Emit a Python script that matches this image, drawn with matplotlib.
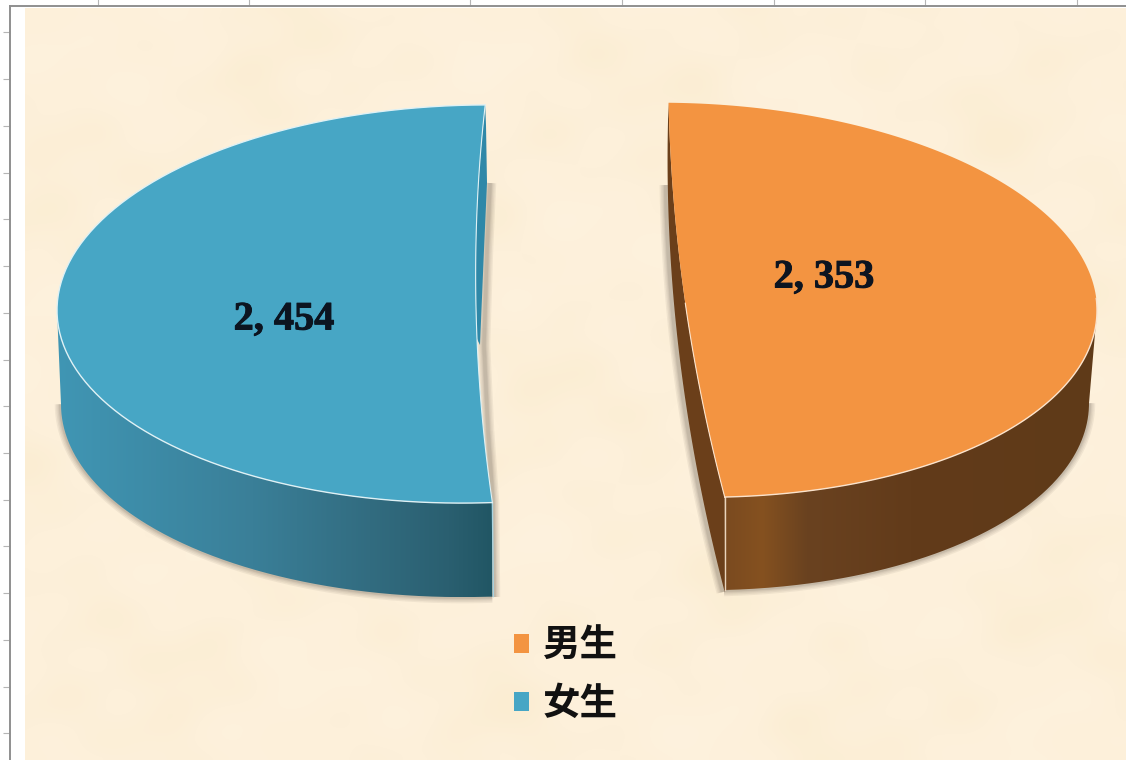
import numpy as np
import matplotlib
matplotlib.use("Agg")
import matplotlib.pyplot as plt
import matplotlib.patheffects as pe
from matplotlib.colors import LinearSegmentedColormap
from matplotlib.patches import Patch, PathPatch
from matplotlib.path import Path

categories = ["男生", "女生"]
values = [2353, 2454]
top_colors = ["#f39441", "#47a6c5"]
x_ticks = [98, 249, 470, 622, 774, 925, 1077]
y_ticks = [32, 79, 126, 173, 219, 266, 313, 360, 406, 453, 500, 546, 593, 640, 687, 733]

W, H = 1126, 760


def arc(cx, cy, a, b, t0, t1, tilt=0.0, n=200):
    t = np.radians(np.linspace(t0, t1, n))
    x = cx + a * np.cos(t)
    return np.column_stack([x, cy - b * np.sin(t) + tilt * (x - cx)])


def bezier(p0, c, p1, n=60):
    s = np.linspace(0, 1, n)[:, None]
    return (1 - s) ** 2 * np.array(p0) + 2 * s * (1 - s) * np.array(c) + s ** 2 * np.array(p1)


def poly(pts):
    return Path(np.vstack([pts, pts[:1]]))


def shadow(ax, pts, z=1):
    for lw in [9, 7, 5, 3.5, 2.5]:
        ax.plot(pts[:, 0], pts[:, 1], color="#4a4038", lw=lw, alpha=0.07,
                solid_capstyle="butt", zorder=z)


def grad_wall(ax, pts, cmap, z):
    x0, x1 = pts[:, 0].min(), pts[:, 0].max()
    y0, y1 = pts[:, 1].min(), pts[:, 1].max()
    im = ax.imshow(np.linspace(0, 1, 256)[None, :], cmap=cmap, extent=[x0, x1, y1, y0],
                   aspect="auto", zorder=z)
    im.set_clip_path(PathPatch(poly(pts), transform=ax.transData))


def value_label(ax, x, y, v):
    txt = ax.text(x, y, f"{v:,}".replace(",", ", "), family="Liberation Serif", weight="bold",
                  fontsize=29, color="#0c1420", ha="center", va="center", zorder=6)
    txt.set_path_effects([pe.withStroke(linewidth=0.7, foreground="#0c1420")])


fig = plt.figure(figsize=(W / 100, H / 100), dpi=100)
ax = fig.add_axes([10 / W, 0, 1 - 10 / W, 1 - 6 / H])

# paper background, smooth mottling only
xx, yy = np.meshgrid(np.linspace(0, 1, 280), np.linspace(0, 1, 190))
tex = (np.sin(19 * xx + 3 * yy) * np.sin(15 * yy - 2 * xx + 1)
       + 0.7 * np.sin(37 * xx - 11 * yy + 2) * np.sin(29 * yy + 7 * xx)
       + 0.5 * np.sin(61 * xx + 23 * yy) * np.sin(53 * yy - 17 * xx + 4))
paper = LinearSegmentedColormap.from_list("paper", ["#fbedd2", "#fdf0da", "#fef2de"])
ax.imshow(tex, cmap=paper, extent=[25, W, H, 8], aspect="auto", zorder=0, interpolation="bilinear")

total = sum(values)
sweep_m = 360 * values[0] / total
sweep_f = 360 * values[1] / total

# 男生 slice
cx, cy, a, b, k = 683, 300, 414, 197, 0.025
t0, t1 = 92, 92 - sweep_m
outer = arc(cx, cy, a, b, t0, t1, k)
p_top, p_bot = outer[0], outer[-1]
inner = bezier(p_bot, (673, 300), p_top)
lower = arc(cx, cy + 93, a - 8, b, t1, 0, k)
side = arc(cx, cy, a, b, 0, t1, k)
wall = np.vstack([lower, side])
left_edge = bezier(p_top, (660, 345), (p_bot[0], p_bot[1] + 95))
inner_wall = np.vstack([left_edge, [p_bot], inner[1:]])
shadow(ax, lower)
shadow(ax, left_edge[left_edge[:, 1] > 183] - [2, 0])
brown = LinearSegmentedColormap.from_list(
    "brown", [(0, "#7a4a20"), (0.1, "#85511f"), (0.22, "#6a4220"), (0.5, "#623b1a"), (1, "#5f3a18")])
grad_wall(ax, wall, brown, 2)
ax.add_patch(PathPatch(poly(inner_wall), fc="#6b3f1a", ec="none", zorder=2))
ax.plot([p_bot[0], p_bot[0]], [p_bot[1], p_bot[1] + 93], color="#e9d3bb", lw=1, zorder=3)
ax.add_patch(PathPatch(poly(np.vstack([outer, inner[1:]])), fc=top_colors[0], ec="none", zorder=4))
ax.plot(outer[100:, 0], outer[100:, 1], color="#fbe3cc", lw=1, zorder=5)
ax.plot(inner[:30, 0], inner[:30, 1], color="#fbe3cc", lw=0.8, zorder=5)
value_label(ax, 824, 278, values[0])

# 女生 slice
cx, cy, a, b, k = 475, 304, 418, 199, -0.015
t0, t1 = 88.6, 88.6 + sweep_f
outer = arc(cx, cy, a, b, t0, t1, k)
p_top, p_bot = outer[0], outer[-1]
inner = bezier(p_bot, (463, 300), p_top)
lower = arc(cx, cy + 94, a - 4, b, 180, t1, k)
side = arc(cx, cy, a, b, t1, 180, k)
wall = np.vstack([lower, side])
up_part = inner[inner[:, 1] < 345]
sliver = np.vstack([up_part, [(486, 125), (487, 183), (484, 250), (480, 345)]])
gap_edge = np.array([(490, 183), (487, 250), (484, 345), (488, 430), (493, 502), (494, 597)])
shadow(ax, lower)
shadow(ax, gap_edge)
blue = LinearSegmentedColormap.from_list(
    "blue", [(0, "#4096b4"), (0.45, "#3a7f98"), (0.72, "#326c80"), (0.9, "#2a5f70"), (1, "#215664")])
grad_wall(ax, wall, blue, 2)
ax.add_patch(PathPatch(poly(sliver), fc="#2f88a8", ec="none", zorder=2))
ax.plot([p_bot[0], p_bot[0] + 1], [p_bot[1], p_bot[1] + 94], color="#a8d3e0", lw=1, zorder=3)
ax.add_patch(PathPatch(poly(np.vstack([outer, inner[1:]])), fc=top_colors[1], ec="none", zorder=4))
ax.plot(outer[:, 0], outer[:, 1], color="#dff1f5", lw=1, zorder=5)
ax.plot(inner[:, 0], inner[:, 1], color="#dff1f5", lw=0.8, zorder=5)
value_label(ax, 284, 320, values[1])

handles = [Patch(fc=c, ec="none") for c in top_colors]
leg = ax.legend(handles, categories, loc="center", bbox_to_anchor=(566, 674),
                bbox_transform=ax.transData, frameon=False,
                handlelength=0.4, handleheight=0.4, handletextpad=0.37, labelspacing=0.51,
                prop={"family": ["Noto Sans CJK TC", "DejaVu Sans"], "weight": "bold", "size": 27})
for t in leg.get_texts():
    t.set_color("#111111")
leg.set_zorder(6)

ax.set_xlim(10, W)
ax.set_ylim(H, 6)
ax.xaxis.tick_top()
ax.set_xticks(x_ticks)
ax.set_yticks(y_ticks)
ax.tick_params(axis="both", length=5, width=0.8, color="#b5b5b5", direction="out",
               labeltop=False, labelleft=False, pad=0)
for side_name in ["right", "bottom"]:
    ax.spines[side_name].set_visible(False)
for side_name in ["left", "top"]:
    ax.spines[side_name].set_color("#8f8f8f")
    ax.spines[side_name].set_linewidth(1.4)

fig.savefig("out.png", dpi=100)
